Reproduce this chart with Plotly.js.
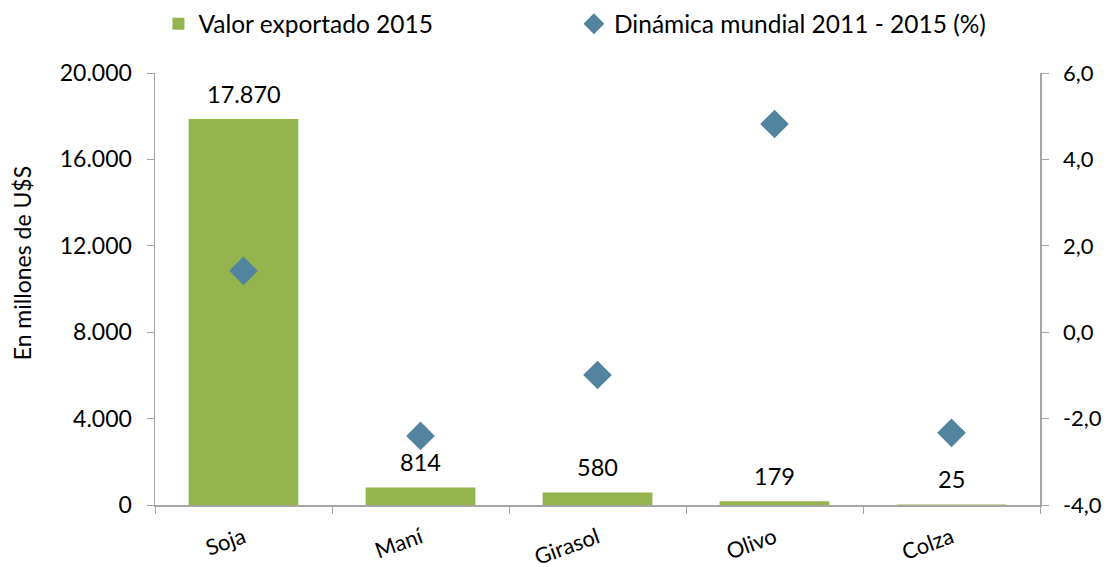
<!DOCTYPE html>
<html><head><meta charset="utf-8">
<script src="https://cdn.plot.ly/plotly-3.0.1.min.js"></script>
<style>body{margin:0;background:#fff}#chart{width:1108px;height:567px}</style>
</head><body><div id="chart"></div>
<script>
const categories = ["Soja", "Maní", "Girasol", "Olivo", "Colza"];
const exportValues2015 = [17870, 814, 580, 179, 25];
const dinamica2011_2015 = [1.42, -2.40, -0.99, 4.82, -2.33];
const leftTickVals = [0, 4000, 8000, 12000, 16000, 20000];
const leftTickText = ["0", "4.000", "8.000", "12.000", "16.000", "20.000"];
const rightTickVals = [-4, -2, 0, 2, 4, 6];
const rightTickText = ["-4,0", "-2,0", "0,0", "2,0", "4,0", "6,0"];
const yTitle = "En millones de U$S";

const FONT = "Lato, 'Open Sans', sans-serif";
const fmt = v => v.toString().replace(/\B(?=(\d{3})+(?!\d))/g, ".");

const bars = {
  type: "bar",
  name: "Valor exportado 2015",
  x: categories,
  y: exportValues2015,
  marker: {color: "#94B54E"},
  yaxis: "y",
  legend: "legend"
};
const diamonds = {
  type: "scatter",
  mode: "markers",
  name: "Dinámica mundial 2011 - 2015 (%)",
  x: categories,
  y: dinamica2011_2015,
  marker: {symbol: "diamond", size: 22, color: "#53849F"},
  yaxis: "y2",
  cliponaxis: false,
  legend: "legend2"
};

const annotations = categories.map((c, i) => ({
  x: c, y: exportValues2015[i], xref: "x", yref: "y",
  text: fmt(exportValues2015[i]), showarrow: false,
  yanchor: "bottom", yshift: 9,
  font: {size: 23.5, color: "#000", family: FONT}
}));
annotations.push({
  text: yTitle, xref: "paper", yref: "paper", x: -0.150, y: 0.56,
  xanchor: "center", yanchor: "middle", textangle: -90, showarrow: false,
  font: {size: 23, color: "#000", family: FONT}
});

const legendBase = {orientation: "h", xanchor: "left", xref: "container", yref: "container",
                    y: 0.958, yanchor: "middle",
                    font: {size: 24.5, family: FONT}, itemwidth: 30, bgcolor: "rgba(0,0,0,0)"};

const layout = {
  width: 1108, height: 567,
  margin: {l: 155, r: 68, t: 73, b: 62},
  paper_bgcolor: "#fff", plot_bgcolor: "#fff",
  font: {family: FONT, size: 22, color: "#000"},
  bargap: 0.38,
  showlegend: true,
  legend: Object.assign({}, legendBase, {x: 0.143}),
  legend2: Object.assign({}, legendBase, {x: 0.518}),
  annotations: annotations,
  xaxis: {
    type: "category", showline: true, linecolor: "#A6A6A6", linewidth: 1.5,
    ticks: "outside", ticklen: 7, tickcolor: "#A6A6A6", tickson: "boundaries",
    tickangle: -20, tickfont: {size: 22, family: FONT}, ticklabelstandoff: 10,
    showgrid: false, zeroline: false, automargin: false
  },
  yaxis: {
    range: [0, 20000], tickvals: leftTickVals, ticktext: leftTickText,
    showline: true, linecolor: "#A6A6A6", linewidth: 1.5, ticks: "outside", ticklen: 7, tickcolor: "#A6A6A6",
    showgrid: false, zeroline: false, tickfont: {size: 23, family: FONT}, ticklabelstandoff: 10,
    automargin: false
  },
  yaxis2: {
    overlaying: "y", side: "right", range: [-4, 6], tickvals: rightTickVals, ticktext: rightTickText,
    showline: true, linecolor: "#A6A6A6", linewidth: 1.5, ticks: "outside", ticklen: 7, tickcolor: "#A6A6A6",
    showgrid: false, zeroline: false, tickfont: {size: 22, family: FONT}, ticklabelstandoff: 10,
    automargin: false
  }
};

Plotly.newPlot("chart", [bars, diamonds], layout, {displayModeBar: false, staticPlot: true});
</script>
</body></html>
